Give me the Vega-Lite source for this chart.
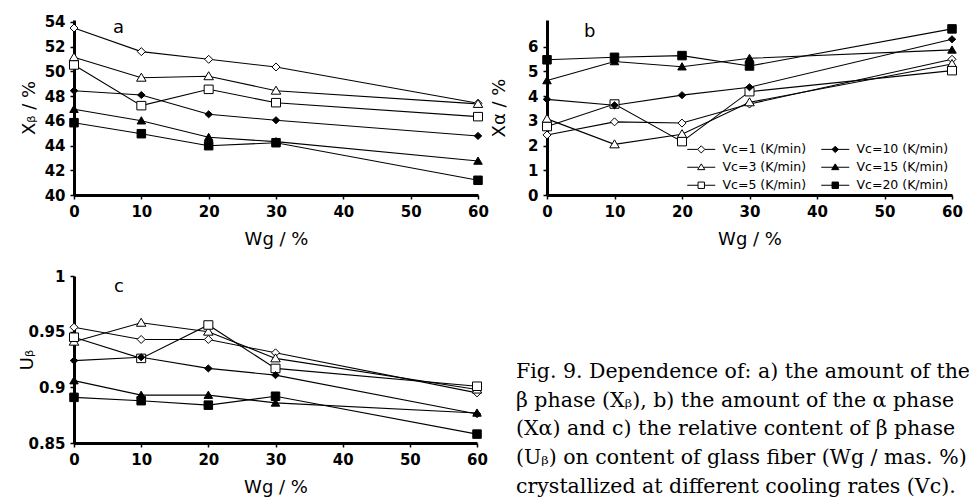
{
  "$schema": "https://vega.github.io/schema/vega-lite/v6.json",
  "background": "white",
  "padding": {"left": 18, "top": 14, "right": 0, "bottom": 0},
  "columns": 2,
  "bounds": "flush",
  "spacing": {"row": 81, "column": 69},
  "resolve": {
    "scale": {"shape": "independent", "fill": "independent"},
    "legend": {"shape": "independent", "fill": "independent"}
  },
  "datasets": {
    "a": [
      {"s": "Vc=1 (K/min)", "Wg": 0, "v": 53.51}, {"s": "Vc=1 (K/min)", "Wg": 10, "v": 51.6}, {"s": "Vc=1 (K/min)", "Wg": 20, "v": 50.98}, {"s": "Vc=1 (K/min)", "Wg": 30, "v": 50.36}, {"s": "Vc=1 (K/min)", "Wg": 60, "v": 47.42},
      {"s": "Vc=3 (K/min)", "Wg": 0, "v": 51.14}, {"s": "Vc=3 (K/min)", "Wg": 10, "v": 49.49}, {"s": "Vc=3 (K/min)", "Wg": 20, "v": 49.61}, {"s": "Vc=3 (K/min)", "Wg": 30, "v": 48.44}, {"s": "Vc=3 (K/min)", "Wg": 60, "v": 47.37},
      {"s": "Vc=5 (K/min)", "Wg": 0, "v": 50.52}, {"s": "Vc=5 (K/min)", "Wg": 10, "v": 47.23}, {"s": "Vc=5 (K/min)", "Wg": 20, "v": 48.55}, {"s": "Vc=5 (K/min)", "Wg": 30, "v": 47.47}, {"s": "Vc=5 (K/min)", "Wg": 60, "v": 46.34},
      {"s": "Vc=10 (K/min)", "Wg": 0, "v": 48.44}, {"s": "Vc=10 (K/min)", "Wg": 10, "v": 48.09}, {"s": "Vc=10 (K/min)", "Wg": 20, "v": 46.53}, {"s": "Vc=10 (K/min)", "Wg": 30, "v": 46.05}, {"s": "Vc=10 (K/min)", "Wg": 60, "v": 44.78},
      {"s": "Vc=15 (K/min)", "Wg": 0, "v": 46.94}, {"s": "Vc=15 (K/min)", "Wg": 10, "v": 46.01}, {"s": "Vc=15 (K/min)", "Wg": 20, "v": 44.67}, {"s": "Vc=15 (K/min)", "Wg": 30, "v": 44.32}, {"s": "Vc=15 (K/min)", "Wg": 60, "v": 42.75},
      {"s": "Vc=20 (K/min)", "Wg": 0, "v": 45.85}, {"s": "Vc=20 (K/min)", "Wg": 10, "v": 44.96}, {"s": "Vc=20 (K/min)", "Wg": 20, "v": 43.99}, {"s": "Vc=20 (K/min)", "Wg": 30, "v": 44.23}, {"s": "Vc=20 (K/min)", "Wg": 60, "v": 41.19}
    ],
    "b": [
      {"s": "Vc=1 (K/min)", "Wg": 0, "v": 2.43}, {"s": "Vc=1 (K/min)", "Wg": 10, "v": 2.96}, {"s": "Vc=1 (K/min)", "Wg": 20, "v": 2.91}, {"s": "Vc=1 (K/min)", "Wg": 30, "v": 3.68}, {"s": "Vc=1 (K/min)", "Wg": 60, "v": 5.49},
      {"s": "Vc=3 (K/min)", "Wg": 0, "v": 3.08}, {"s": "Vc=3 (K/min)", "Wg": 10, "v": 2.05}, {"s": "Vc=3 (K/min)", "Wg": 20, "v": 2.46}, {"s": "Vc=3 (K/min)", "Wg": 30, "v": 3.75}, {"s": "Vc=3 (K/min)", "Wg": 60, "v": 5.3},
      {"s": "Vc=5 (K/min)", "Wg": 0, "v": 2.77}, {"s": "Vc=5 (K/min)", "Wg": 10, "v": 3.68}, {"s": "Vc=5 (K/min)", "Wg": 20, "v": 2.16}, {"s": "Vc=5 (K/min)", "Wg": 30, "v": 4.18}, {"s": "Vc=5 (K/min)", "Wg": 60, "v": 5.03},
      {"s": "Vc=10 (K/min)", "Wg": 0, "v": 3.87}, {"s": "Vc=10 (K/min)", "Wg": 10, "v": 3.63}, {"s": "Vc=10 (K/min)", "Wg": 20, "v": 4.04}, {"s": "Vc=10 (K/min)", "Wg": 30, "v": 4.36}, {"s": "Vc=10 (K/min)", "Wg": 60, "v": 6.3},
      {"s": "Vc=15 (K/min)", "Wg": 0, "v": 4.63}, {"s": "Vc=15 (K/min)", "Wg": 10, "v": 5.4}, {"s": "Vc=15 (K/min)", "Wg": 20, "v": 5.19}, {"s": "Vc=15 (K/min)", "Wg": 30, "v": 5.53}, {"s": "Vc=15 (K/min)", "Wg": 60, "v": 5.87},
      {"s": "Vc=20 (K/min)", "Wg": 0, "v": 5.47}, {"s": "Vc=20 (K/min)", "Wg": 10, "v": 5.57}, {"s": "Vc=20 (K/min)", "Wg": 20, "v": 5.64}, {"s": "Vc=20 (K/min)", "Wg": 30, "v": 5.22}, {"s": "Vc=20 (K/min)", "Wg": 60, "v": 6.72}
    ],
    "c": [
      {"s": "Vc=1 (K/min)", "Wg": 0, "v": 0.954}, {"s": "Vc=1 (K/min)", "Wg": 10, "v": 0.943}, {"s": "Vc=1 (K/min)", "Wg": 20, "v": 0.943}, {"s": "Vc=1 (K/min)", "Wg": 30, "v": 0.931}, {"s": "Vc=1 (K/min)", "Wg": 60, "v": 0.895},
      {"s": "Vc=3 (K/min)", "Wg": 0, "v": 0.941}, {"s": "Vc=3 (K/min)", "Wg": 10, "v": 0.958}, {"s": "Vc=3 (K/min)", "Wg": 20, "v": 0.95}, {"s": "Vc=3 (K/min)", "Wg": 30, "v": 0.926}, {"s": "Vc=3 (K/min)", "Wg": 60, "v": 0.898},
      {"s": "Vc=5 (K/min)", "Wg": 0, "v": 0.945}, {"s": "Vc=5 (K/min)", "Wg": 10, "v": 0.926}, {"s": "Vc=5 (K/min)", "Wg": 20, "v": 0.956}, {"s": "Vc=5 (K/min)", "Wg": 30, "v": 0.917}, {"s": "Vc=5 (K/min)", "Wg": 60, "v": 0.901},
      {"s": "Vc=10 (K/min)", "Wg": 0, "v": 0.924}, {"s": "Vc=10 (K/min)", "Wg": 10, "v": 0.927}, {"s": "Vc=10 (K/min)", "Wg": 20, "v": 0.917}, {"s": "Vc=10 (K/min)", "Wg": 30, "v": 0.911}, {"s": "Vc=10 (K/min)", "Wg": 60, "v": 0.876},
      {"s": "Vc=15 (K/min)", "Wg": 0, "v": 0.906}, {"s": "Vc=15 (K/min)", "Wg": 10, "v": 0.893}, {"s": "Vc=15 (K/min)", "Wg": 20, "v": 0.893}, {"s": "Vc=15 (K/min)", "Wg": 30, "v": 0.886}, {"s": "Vc=15 (K/min)", "Wg": 60, "v": 0.877},
      {"s": "Vc=20 (K/min)", "Wg": 0, "v": 0.891}, {"s": "Vc=20 (K/min)", "Wg": 10, "v": 0.888}, {"s": "Vc=20 (K/min)", "Wg": 20, "v": 0.884}, {"s": "Vc=20 (K/min)", "Wg": 30, "v": 0.892}, {"s": "Vc=20 (K/min)", "Wg": 60, "v": 0.858}
    ]
  },
  "concat": [
    {
      "width": 404, "height": 175,
      "data": {"name": "a"},
      "title": {"text": "a", "anchor": "start", "frame": "group", "orient": "top", "baseline": "alphabetic", "offset": -23, "dx": 39, "dy": 13},
      "encoding": {
        "x": {"field": "Wg", "type": "quantitative", "scale": {"domain": [0, 60], "nice": false, "zero": false}, "axis": {"values": [0, 10, 20, 30, 40, 50, 60], "title": "Wg / %"}},
        "y": {"field": "v", "type": "quantitative", "scale": {"domain": [40, 54.16], "nice": false, "zero": false}, "axis": {"values": [40, 42, 44, 46, 48, 50, 52, 54], "title": "Xᵦ / %"}}
      },
      "layer": [
        {"mark": {"type": "line", "color": "black", "strokeWidth": 1.1}, "encoding": {"detail": {"field": "s"}}},
        {"mark": {"type": "point", "size": 100, "stroke": "black", "strokeWidth": 1, "opacity": 1, "fillOpacity": 1},
         "encoding": {
          "shape": {"field": "s", "type": "nominal", "legend": null, "scale": {"domain": ["Vc=1 (K/min)", "Vc=3 (K/min)", "Vc=5 (K/min)", "Vc=10 (K/min)", "Vc=15 (K/min)", "Vc=20 (K/min)"], "range": ["M0,-0.8L0.8,0L0,0.8L-0.8,0Z", "M0,-0.9L0.95,0.7L-0.95,0.7Z", "M-0.9,-0.85L0.9,-0.85L0.9,0.85L-0.9,0.85Z", "M0,-0.7L0.75,0L0,0.7L-0.75,0Z", "M0,-0.8L0.85,0.65L-0.85,0.65Z", "M-0.85,-0.85L0.85,-0.85L0.85,0.85L-0.85,0.85Z"]}},
          "fill": {"field": "s", "type": "nominal", "legend": null, "scale": {"domain": ["Vc=1 (K/min)", "Vc=3 (K/min)", "Vc=5 (K/min)", "Vc=10 (K/min)", "Vc=15 (K/min)", "Vc=20 (K/min)"], "range": ["white", "white", "white", "black", "black", "black"]}}
         }}
      ]
    },
    {
      "width": 405, "height": 175,
      "data": {"name": "b"},
      "title": {"text": "b", "anchor": "start", "frame": "group", "orient": "top", "baseline": "alphabetic", "offset": -17, "dx": 37, "dy": 18},
      "encoding": {
        "x": {"field": "Wg", "type": "quantitative", "scale": {"domain": [0, 60], "nice": false, "zero": false}, "axis": {"values": [0, 10, 20, 30, 40, 50, 60], "title": "Wg / %"}},
        "y": {"field": "v", "type": "quantitative", "scale": {"domain": [0, 7.08], "nice": false, "zero": false}, "axis": {"values": [0, 1, 2, 3, 4, 5, 6], "title": "Xα / %", "titlePadding": 19}}
      },
      "resolve": {"scale": {"shape": "independent", "fill": "independent"}},
      "layer": [
        {"mark": {"type": "line", "color": "black", "strokeWidth": 1.1}, "encoding": {"detail": {"field": "s"}}},
        {"mark": {"type": "point", "size": 100, "stroke": "black", "strokeWidth": 1, "opacity": 1, "fillOpacity": 1},
         "encoding": {
          "shape": {"field": "s", "type": "nominal", "legend": null, "scale": {"domain": ["Vc=1 (K/min)", "Vc=3 (K/min)", "Vc=5 (K/min)", "Vc=10 (K/min)", "Vc=15 (K/min)", "Vc=20 (K/min)"], "range": ["M0,-0.8L0.8,0L0,0.8L-0.8,0Z", "M0,-0.9L0.95,0.7L-0.95,0.7Z", "M-0.9,-0.85L0.9,-0.85L0.9,0.85L-0.9,0.85Z", "M0,-0.7L0.75,0L0,0.7L-0.75,0Z", "M0,-0.8L0.85,0.65L-0.85,0.65Z", "M-0.85,-0.85L0.85,-0.85L0.85,0.85L-0.85,0.85Z"]}},
          "fill": {"field": "s", "type": "nominal", "legend": null, "scale": {"domain": ["Vc=1 (K/min)", "Vc=3 (K/min)", "Vc=5 (K/min)", "Vc=10 (K/min)", "Vc=15 (K/min)", "Vc=20 (K/min)"], "range": ["white", "white", "white", "black", "black", "black"]}}
         }},
        {"transform": [{"filter": "false"}],
         "mark": {"type": "point", "size": 64, "stroke": "black", "strokeWidth": 1, "opacity": 1, "fillOpacity": 1},
         "encoding": {
          "shape": {"field": "s", "type": "nominal",
            "scale": {"domain": ["Vc=1 (K/min)", "Vc=3 (K/min)", "Vc=5 (K/min)", "Vc=10 (K/min)", "Vc=15 (K/min)", "Vc=20 (K/min)"], "range": [
              "M-3.5,0L-0.9,0M0.9,0L3.5,0M0,-0.9L0.9,0L0,0.9L-0.9,0Z",
              "M-3.5,0L-0.7,0M0.7,0L3.5,0M0,-0.85L0.9,0.6L-0.9,0.6Z",
              "M-3.5,0L-0.8,0M0.8,0L3.5,0M-0.8,-0.8L0.8,-0.8L0.8,0.8L-0.8,0.8Z",
              "M-3.5,0L3.5,0M0,-0.8L0.8,0L0,0.8L-0.8,0Z",
              "M-3.5,0L3.5,0M0,-0.85L0.9,0.6L-0.9,0.6Z",
              "M-3.5,0L3.5,0M-0.8,-0.8L0.8,-0.8L0.8,0.8L-0.8,0.8Z"]},
            "legend": {"title": null, "orient": "none", "legendX": 148, "legendY": 123, "columns": 2, "columnPadding": 12, "rowPadding": 5, "symbolSize": 64, "labelOffset": 15, "labelFont": "DejaVu Sans", "labelFontSize": 12.5, "labelColor": "black", "symbolStrokeWidth": 1, "padding": 0}},
          "fill": {"field": "s", "type": "nominal", "scale": {"domain": ["Vc=1 (K/min)", "Vc=3 (K/min)", "Vc=5 (K/min)", "Vc=10 (K/min)", "Vc=15 (K/min)", "Vc=20 (K/min)"], "range": ["white", "white", "white", "black", "black", "black"]},
            "legend": {"title": null, "orient": "none", "legendX": 148, "legendY": 123, "columns": 2, "columnPadding": 12, "rowPadding": 5, "symbolSize": 64, "labelOffset": 15, "labelFont": "DejaVu Sans", "labelFontSize": 12.5, "labelColor": "black", "symbolStrokeWidth": 1, "padding": 0}}
         }}
      ]
    },
    {
      "width": 403, "height": 167,
      "data": {"name": "c"},
      "title": {"text": "c", "anchor": "start", "frame": "group", "orient": "top", "baseline": "alphabetic", "offset": -25, "dx": 40, "dy": 16},
      "encoding": {
        "x": {"field": "Wg", "type": "quantitative", "scale": {"domain": [0, 60], "nice": false, "zero": false}, "axis": {"values": [0, 10, 20, 30, 40, 50, 60], "title": "Wg / %"}},
        "y": {"field": "v", "type": "quantitative", "scale": {"domain": [0.85, 1], "nice": false, "zero": false}, "axis": {"values": [0.85, 0.9, 0.95, 1], "format": "~g", "title": "Uᵦ", "titlePadding": -9}}
      },
      "layer": [
        {"mark": {"type": "line", "color": "black", "strokeWidth": 1.1}, "encoding": {"detail": {"field": "s"}}},
        {"mark": {"type": "point", "size": 100, "stroke": "black", "strokeWidth": 1, "opacity": 1, "fillOpacity": 1},
         "encoding": {
          "shape": {"field": "s", "type": "nominal", "legend": null, "scale": {"domain": ["Vc=1 (K/min)", "Vc=3 (K/min)", "Vc=5 (K/min)", "Vc=10 (K/min)", "Vc=15 (K/min)", "Vc=20 (K/min)"], "range": ["M0,-0.8L0.8,0L0,0.8L-0.8,0Z", "M0,-0.9L0.95,0.7L-0.95,0.7Z", "M-0.9,-0.85L0.9,-0.85L0.9,0.85L-0.9,0.85Z", "M0,-0.7L0.75,0L0,0.7L-0.75,0Z", "M0,-0.8L0.85,0.65L-0.85,0.65Z", "M-0.85,-0.85L0.85,-0.85L0.85,0.85L-0.85,0.85Z"]}},
          "fill": {"field": "s", "type": "nominal", "legend": null, "scale": {"domain": ["Vc=1 (K/min)", "Vc=3 (K/min)", "Vc=5 (K/min)", "Vc=10 (K/min)", "Vc=15 (K/min)", "Vc=20 (K/min)"], "range": ["white", "white", "white", "black", "black", "black"]}}
         }}
      ]
    },
    {
      "width": 423, "height": 88,
      "data": {"values": [{}]},
      "mark": {"type": "text", "text": ""},
      "encoding": {},
      "title": {
        "text": ["Fig. 9. Dependence of: a) the amount of the", "β phase (Xᵦ), b) the amount of the α phase", "(Xα) and c) the relative content of β phase", "(Uᵦ) on content of glass fiber (Wg / mas. %)", "crystallized at different cooling rates (Vc)."],
        "anchor": "start", "frame": "group", "orient": "bottom", "baseline": "top", "offset": -2, "dx": -31,
        "font": "DejaVu Serif", "fontSize": 20.5, "fontWeight": "normal", "lineHeight": 28.7, "color": "black"
      }
    }
  ],
  "config": {
    "view": {"stroke": null},
    "font": "DejaVu Sans",
    "title": {"font": "DejaVu Sans", "fontSize": 18, "fontWeight": "normal", "color": "black"},
    "axis": {
      "grid": false,
      "domainColor": "black", "domainWidth": 3,
      "tickColor": "black", "tickSize": 4, "tickWidth": 1.5,
      "labelFont": "DejaVu Sans", "labelFontSize": 15, "labelFontWeight": "bold", "labelColor": "black", "labelPadding": 4,
      "labelFlush": false, "labelOverlap": false,
      "titleFont": "DejaVu Sans", "titleFontSize": 18, "titleFontWeight": "normal", "titleColor": "black"
    },
    "axisX": {"titlePadding": 11, "labelPadding": 5},
    "axisY": {"titlePadding": 6, "labelPadding": 5}
  }
}
